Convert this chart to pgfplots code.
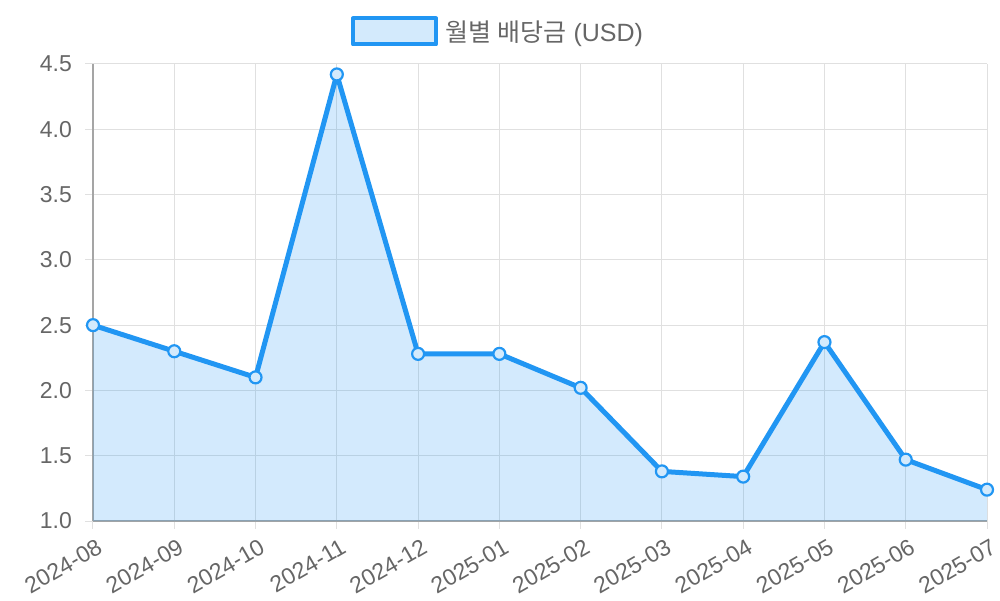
\documentclass[border=0pt]{standalone}
\usepackage{fontspec}
\setmainfont{Liberation Sans}
\newfontfamily\kr{Noto Sans CJK KR}
\usepackage{pgfplots}
\pgfplotsset{compat=1.18}
\definecolor{lineblue}{RGB}{33,150,243}
\definecolor{fillblue}{RGB}{211,234,252}
\definecolor{gridgray}{RGB}{224,224,224}
\definecolor{axgray}{RGB}{165,165,165}
\definecolor{txtgray}{RGB}{102,102,102}
\begin{document}
\begin{tikzpicture}
\path[use as bounding box] (-93pt,-79pt) rectangle (907pt,521pt);
\begin{axis}[
  at={(0pt,0pt)}, anchor=south west,
  scale only axis, width=894pt, height=457pt,
  xmin=0, xmax=11, ymin=1, ymax=4.5,
  axis x line*=bottom, axis y line*=left,
  axis line style={axgray, line width=1.2pt},
  xtick={0,...,11},
  xticklabels={2024-08,2024-09,2024-10,2024-11,2024-12,2025-01,2025-02,2025-03,2025-04,2025-05,2025-06,2025-07},
  ytick={1,1.5,...,4.5},
  y tick label style={/pgf/number format/fixed, /pgf/number format/fixed zerofill, /pgf/number format/precision=1},
  /pgf/number format/assume math mode=true,
  grid=major, major grid style={gridgray, line width=1pt},
  tick align=outside, major tick length=8pt, tick style={gridgray, line width=1pt},
  ticklabel style={font=\fontsize{23}{27}\selectfont, text=txtgray},
  xticklabel style={rotate=30, anchor=north east, inner sep=1pt, yshift=-8pt, xshift=-1pt},
  yticklabel style={inner sep=1pt, xshift=-12pt},
  legend style={at={(rel axis cs:0.453,1)}, anchor=center, yshift=32.5pt,
    draw=none, fill=none, font=\fontsize{25}{29}\selectfont, text=txtgray},
  legend image code/.code={\draw[line width=4pt,lineblue,fill=fillblue] (0pt,-13pt) rectangle (83pt,13pt);},
]
\addplot[draw=none, fill=lineblue, fill opacity=0.2, forget plot] coordinates {
  (0,2.50) (1,2.30) (2,2.10) (3,4.42) (4,2.28) (5,2.28)
  (6,2.02) (7,1.38) (8,1.34) (9,2.37) (10,1.47) (11,1.24)
} \closedcycle;
\addplot[lineblue, line width=5pt, line join=round, mark=*, mark size=6pt,
  mark options={fill=fillblue, line width=2.2pt}] coordinates {
  (0,2.50) (1,2.30) (2,2.10) (3,4.42) (4,2.28) (5,2.28)
  (6,2.02) (7,1.38) (8,1.34) (9,2.37) (10,1.47) (11,1.24)
};
\addlegendentry{\hspace*{6pt}{\kr 월별 배당금} (USD)}
\end{axis}
\end{tikzpicture}
\end{document}
